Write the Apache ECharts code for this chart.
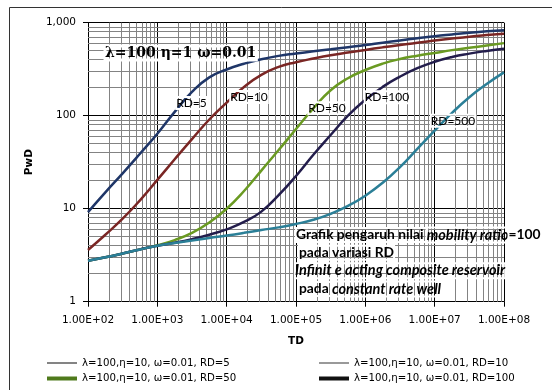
<!DOCTYPE html>
<html><head><meta charset="utf-8">
<script src="https://cdn.jsdelivr.net/npm/echarts@6/dist/echarts.min.js"></script>
<style>html,body{margin:0;padding:0;background:#fff}#c{width:552px;height:390px}</style>
</head><body><div id="c"></div>
<script>
// ---- data ----
const tdValues = [100, 178, 316, 562, 1000, 1780, 3160, 5620, 10000, 17800, 31600, 56200,
  100000, 178000, 316000, 562000, 1000000, 1780000, 3160000, 5620000,
  10000000, 17800000, 31600000, 56200000, 100000000];
const seriesNames = [
  'λ=100,η=10, ω=0.01, RD=5',
  'λ=100,η=10, ω=0.01, RD=10',
  'λ=100,η=10, ω=0.01, RD=50',
  'λ=100,η=10, ω=0.01, RD=100',
  'λ=100,η=10, ω=0.01, RD=500'
];
const pRD5   = [9.2, 15, 24, 39, 64, 110, 180, 258, 314, 362, 405, 440, 466, 492, 518, 546, 575, 610, 645, 681, 716, 748, 780, 807, 832];
const pRD10  = [3.6, 5.25, 7.8, 12.3, 20.4, 34, 56, 91, 138, 204, 275, 335, 376, 412, 447, 479, 510, 543, 575, 610, 643, 676, 708, 736, 762];
const pRD50  = [2.75, 3.0, 3.3, 3.65, 4.05, 4.6, 5.5, 7.1, 10, 15.5, 25.7, 42.7, 72, 120, 188, 253, 310, 363, 407, 442, 473, 507, 537, 569, 603];
const pRD100 = [2.75, 3.0, 3.3, 3.65, 4.0, 4.3, 4.7, 5.25, 6.0, 7.2, 9.3, 14.0, 22.5, 38, 62, 100, 148, 204, 263, 324, 380, 428, 465, 497, 525];
const pRD500 = [2.75, 3.0, 3.3, 3.65, 4.0, 4.27, 4.55, 4.85, 5.15, 5.5, 5.9, 6.3, 6.85, 7.6, 8.8, 10.7, 13.8, 19, 28, 44, 69, 107, 158, 219, 292];
const xTickLabels = ['1.00E+02','1.00E+03','1.00E+04','1.00E+05','1.00E+06','1.00E+07','1.00E+08'];
const yTickLabels = ['1','10','100','1,000'];
const curveLabels = ['RD=5','RD=10','RD=50','RD=100','RD=500'];
const titleText = 'λ=100 η=1 ω=0.01';

// ---- styling ----
const colors = ['#1f3668', '#7a2624', '#6a9a22', '#231d4c', '#2b7f97'];
const legendColors = ['#333333', '#555555', '#4f7a1c', '#111111'];
const allP = [pRD5, pRD10, pRD50, pRD100, pRD500];

const xMinor = [], yMinor = [];
for (let k = 2; k < 8; k++) for (let d = 2; d <= 9; d++) xMinor.push(d * Math.pow(10, k));
for (let k = 0; k < 3; k++) for (let d = 2; d <= 9; d++) yMinor.push(d * Math.pow(10, k));

const series = allP.map((arr, i) => ({
  name: seriesNames[i], type: 'line', smooth: 0.5, showSymbol: false, z: 3,
  lineStyle: { color: colors[i], width: 2.5 }, itemStyle: { color: colors[i] },
  data: tdValues.map((t, j) => [t, arr[j]])
}));
series.unshift({
  name: 'grid-minor', type: 'line', data: [], z: 1, silent: true,
  markLine: {
    z: 1, silent: true, symbol: ['none', 'none'], label: { show: false }, animation: false,
    lineStyle: { color: '#838383', width: 1, type: 'solid' },
    emphasis: { disabled: true },
    data: xMinor.map(v => ({ xAxis: v })).concat(yMinor.map(v => ({ yAxis: v })))
  }
});

const legendPos = [[47, 358, 1.2], [319, 358, 1.2], [47, 373.5, 4], [319, 373.5, 4]];
const legends = legendPos.map((p, i) => ({
  left: p[0], top: p[1], padding: 0, itemWidth: 30, itemHeight: p[2], icon: 'rect',
  selectedMode: false,
  data: [{ name: seriesNames[i], itemStyle: { color: legendColors[i], borderWidth: 0 } }],
  textStyle: { fontSize: 10.2, fontFamily: 'DejaVu Sans', color: '#000' }
}));

const labelPos = [[191.5, 103], [249, 97], [327, 108.3], [387, 97.3], [453, 120.7]];
const halo = { textBorderColor: '#fff', textBorderWidth: 2 };
const graphics = [
  { type: 'rect', shape: { x: 9.5, y: 7.5, width: 600, height: 420 }, style: { fill: null, stroke: '#333', lineWidth: 1 }, silent: true, z: 0 },
  { type: 'text', x: 105, y: 53, z: 10, style: Object.assign({ text: titleText, font: 'bold 14px "DejaVu Serif"', fill: '#000', align: 'left', verticalAlign: 'middle' }, { textBorderColor: '#fff', textBorderWidth: 3 }) }
];
curveLabels.forEach((t, i) => graphics.push({
  type: 'text', x: labelPos[i][0], y: labelPos[i][1], z: 10,
  style: Object.assign({ text: t, font: '12px Lato', fill: '#000', align: 'center', verticalAlign: 'middle' }, halo)
}));
const rich = {
  b: { fontFamily: 'Lato', fontWeight: 'bold', fontSize: 13.8, fill: '#000', textBorderColor: '#fff', textBorderWidth: 2 },
  i: { fontFamily: 'Lato', fontWeight: 'bold', fontStyle: 'italic', fontSize: 14.5, fill: '#000', textBorderColor: '#fff', textBorderWidth: 2 }
};
const noteLines = [
  [296, 235, '{b|Grafik pengaruh nilai }{i|mobility ratio}{b|=100}'],
  [299, 252.7, '{b|pada variasi RD}'],
  [295, 270.7, '{i|Infinit e acting composite reservoir}'],
  [299, 289, '{b|pada }{i|constant rate well}']
];
noteLines.forEach(n => graphics.push({
  type: 'text', x: n[0], y: n[1], z: 10,
  style: { text: n[2], rich: rich, align: 'left', verticalAlign: 'middle' }
}));

const chart = echarts.init(document.getElementById('c'), null, { renderer: 'canvas' });
chart.setOption({
  animation: false,
  backgroundColor: '#fff',
  grid: { left: 88, right: 48, top: 22.7, bottom: 88.3, containLabel: false },
  legend: legends,
  xAxis: {
    type: 'log', logBase: 10, min: 100, max: 100000000,
    name: 'TD', nameLocation: 'middle', nameGap: 34,
    nameTextStyle: { fontFamily: 'DejaVu Sans', fontWeight: 'bold', fontSize: 10.5, color: '#000' },
    axisLine: { show: true, lineStyle: { color: '#000', width: 1 } },
    axisTick: { show: true, length: 5, inside: false, lineStyle: { color: '#000' } },
    axisLabel: { margin: 13, fontFamily: 'DejaVu Sans', fontSize: 10.5, color: '#000',
      formatter: v => xTickLabels[Math.round(Math.log10(v)) - 2] },
    splitLine: { show: true, lineStyle: { color: '#000', width: 1 } },
    minorTick: { show: false }, minorSplitLine: { show: false }
  },
  yAxis: {
    type: 'log', logBase: 10, min: 1, max: 1000,
    name: 'PwD', nameLocation: 'middle', nameGap: 44, nameRotate: 90,
    nameTextStyle: { fontFamily: 'DejaVu Sans', fontWeight: 'bold', fontSize: 10.5, color: '#000' },
    axisLine: { show: true, lineStyle: { color: '#000', width: 1 } },
    axisTick: { show: true, length: 5, inside: false, lineStyle: { color: '#000' } },
    axisLabel: { margin: 12, fontFamily: 'DejaVu Sans', fontSize: 10.5, color: '#000',
      formatter: v => yTickLabels[Math.round(Math.log10(v))] },
    splitLine: { show: true, lineStyle: { color: '#000', width: 1 } },
    minorTick: { show: false }, minorSplitLine: { show: false }
  },
  series: series,
  graphic: graphics
});
</script>
</body></html>
